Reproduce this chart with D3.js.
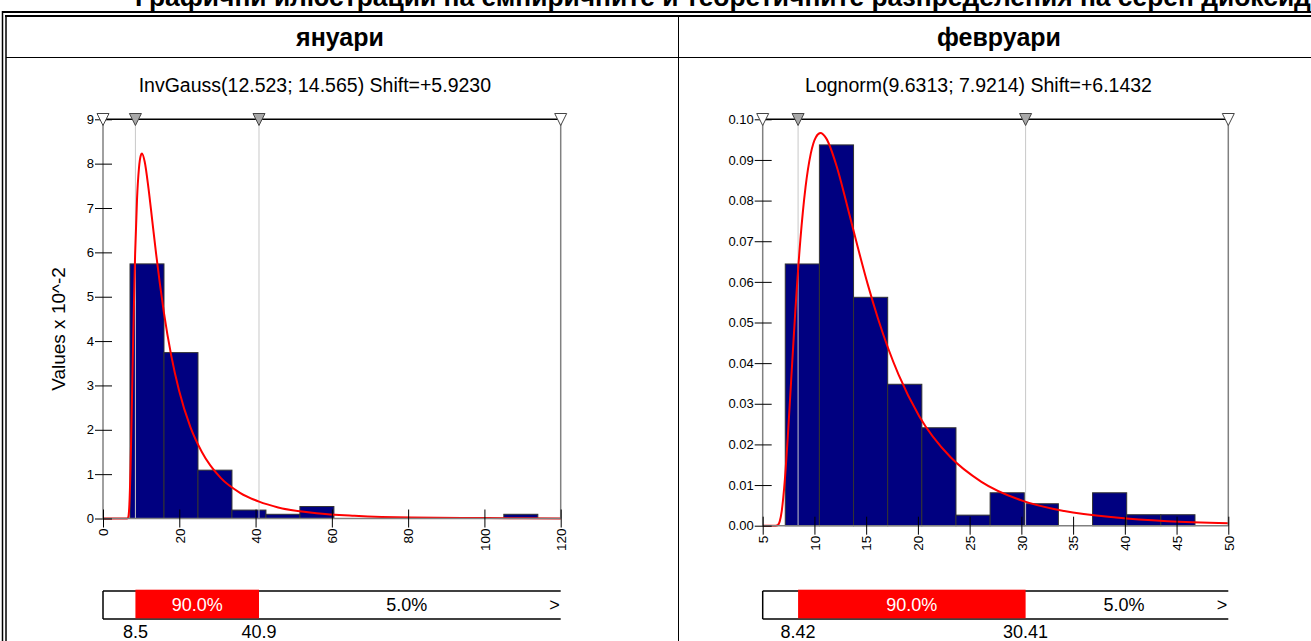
<!DOCTYPE html>
<html>
<head>
<meta charset="utf-8">
<script src="https://cdn.jsdelivr.net/npm/d3@7"></script>
<style>
  body { margin: 0; background: #fff; }
  text { font-family: "Liberation Sans", Arial, sans-serif; }
</style>
</head>
<body>
<div id="chart"></div>
<script>
const pageTitle = "Графични илюстрации на емпиричните и теоретичните разпределения на серен диоксид";
const months = ["януари", "февруари"];
const fitNames = ["InvGauss(12.523; 14.565) Shift=+5.9230", "Lognorm(9.6313; 7.9214) Shift=+6.1432"];
const yTitles = ["Values x 10^-2", ""];

// histograms: first bin edge, bin width, bar heights
const janBinStart = 7.08, janBinWidth = 8.91;
const janHeights = [5.74, 3.74, 1.09, 0.19, 0.095, 0.27, 0, 0, 0, 0, 0, 0.095];
const febBinStart = 7.18, febBinWidth = 3.3;
const febHeights = [0.0644, 0.0937, 0.0562, 0.0348, 0.0241, 0.0026, 0.0081, 0.0054, 0, 0.0081, 0.0027, 0.0027];

// fitted curves [x, density]
const janCurve = [[0, 0], [6.3, 0], [6.52, 0.01], [6.72, 0.07], [6.92, 0.32], [7.22, 1.14], [7.52, 2.36],
  [7.92, 4.12], [8.42, 5.96], [8.92, 7.2], [9.42, 7.89], [9.92, 8.19], [10.22, 8.23], [10.92, 8.05],
  [11.92, 7.45], [12.92, 6.71], [13.92, 5.97], [14.92, 5.29], [15.92, 4.67], [17.92, 3.66], [19.92, 2.89],
  [22.92, 2.06], [25.92, 1.5], [30.92, 0.91], [35.92, 0.58], [40.92, 0.38], [45.92, 0.25], [55.92, 0.12],
  [65.92, 0.06], [80.92, 0.02], [100.92, 0.01], [120, 0]];
const febCurve = [[5, 0], [6.25, 0], [6.44, 0.0001], [6.64, 0.001], [6.84, 0.0036], [7.14, 0.0113],
  [7.44, 0.0225], [7.74, 0.0353], [8.14, 0.0523], [8.64, 0.0703], [9.14, 0.0833], [9.64, 0.0915],
  [10.14, 0.0956], [10.58, 0.0966], [11.14, 0.0953], [12.14, 0.0885], [13.14, 0.079], [14.14, 0.069],
  [15.14, 0.0595], [16.14, 0.051], [18.14, 0.0371], [20.14, 0.0269], [23.14, 0.0169], [26.14, 0.0108],
  [30.14, 0.0061], [34.14, 0.0036], [39.14, 0.002], [44.14, 0.0011], [50, 0.0006]];

const janXTicks = [0, 20, 40, 60, 80, 100, 120];
const janYTicks = [0, 1, 2, 3, 4, 5, 6, 7, 8, 9];
const febXTicks = [5, 10, 15, 20, 25, 30, 35, 40, 45, 50];
const febYTicks = [0, 0.01, 0.02, 0.03, 0.04, 0.05, 0.06, 0.07, 0.08, 0.09, 0.10];

const janMarks = [8.5, 40.9];
const febMarks = [8.42, 30.41];
const janMarkLabels = ["8.5", "40.9"];
const febMarkLabels = ["8.42", "30.41"];
const bandLabels = ["90.0%", "5.0%", ">"];

const width = 1311, height = 641;

const panels = [
  {month: months[0], fit: fitNames[0], yTitle: yTitles[0], heights: janHeights, binStart: janBinStart,
   binWidth: janBinWidth, curve: janCurve, xTicks: janXTicks, yTicks: janYTicks, yFormat: d3.format("d"),
   marks: janMarks, markLabels: janMarkLabels, cx: 340,
   box: {left: 103, right: 560.7, top: 119.3, bottom: 518.5}},
  {month: months[1], fit: fitNames[1], yTitle: yTitles[1], heights: febHeights, binStart: febBinStart,
   binWidth: febBinWidth, curve: febCurve, xTicks: febXTicks, yTicks: febYTicks, yFormat: d3.format(".2f"),
   marks: febMarks, markLabels: febMarkLabels, cx: 999,
   box: {left: 762.7, right: 1228.3, top: 119.3, bottom: 525.7}}
];

const svg = d3.select("#chart").append("svg")
    .attr("width", width)
    .attr("height", height);

// page title, cut by the top edge like in the source
svg.append("text")
    .attr("x", 135)
    .attr("y", 6)
    .attr("font-size", 26.4)
    .attr("font-weight", "bold")
    .text(pageTitle);

// table borders
const frame = svg.append("g").attr("stroke", "#000");
frame.append("line").attr("x1", 2).attr("x2", width).attr("y1", 12).attr("y2", 12).attr("stroke-width", 2);
frame.append("line").attr("x1", 5).attr("x2", width).attr("y1", 16).attr("y2", 16).attr("stroke-width", 2);
frame.append("line").attr("x1", 2.5).attr("x2", 2.5).attr("y1", 11).attr("y2", height).attr("stroke-width", 1.5);
frame.append("line").attr("x1", 6).attr("x2", 6).attr("y1", 15.5).attr("y2", height).attr("stroke-width", 1.5);
frame.append("line").attr("x1", 6).attr("x2", width).attr("y1", 57.5).attr("y2", 57.5).attr("stroke-width", 1);
frame.append("line").attr("x1", 678.5).attr("x2", 678.5).attr("y1", 17).attr("y2", height).attr("stroke-width", 1);

panels.forEach(p => {
  const b = p.box;
  const x = d3.scaleLinear().domain(d3.extent(p.xTicks)).range([b.left, b.right]);
  const y = d3.scaleLinear().domain(d3.extent(p.yTicks)).range([b.bottom, b.top]);
  const g = svg.append("g");

  g.append("text")
      .attr("x", p.cx).attr("y", 46)
      .attr("text-anchor", "middle")
      .attr("font-size", 25)
      .attr("font-weight", "bold")
      .text(p.month);

  g.append("text")
      .attr("x", (b.left + b.right) / 2 - 17).attr("y", 92)
      .attr("text-anchor", "middle")
      .attr("font-size", 19.5)
      .text(p.fit);

  if (p.yTitle) {
    g.append("text")
        .attr("transform", `translate(65,329) rotate(-90)`)
        .attr("text-anchor", "middle")
        .attr("font-size", 19)
        .text(p.yTitle);
  }

  // bars
  const bins = p.heights.map((h, i) => ({x0: p.binStart + i * p.binWidth, x1: p.binStart + (i + 1) * p.binWidth, h}))
      .filter(d => d.h > 0);
  g.selectAll(".bar")
      .data(bins)
      .enter().append("rect")
      .attr("x", d => x(d.x0))
      .attr("width", d => x(d.x1) - x(d.x0))
      .attr("y", d => y(d.h))
      .attr("height", d => y(0) - y(d.h))
      .attr("fill", "#000080")
      .attr("stroke", "#333")
      .attr("stroke-width", 1);

  // percentile lines
  g.selectAll(".mark")
      .data(p.marks)
      .enter().append("line")
      .attr("x1", d => x(d)).attr("x2", d => x(d))
      .attr("y1", b.top).attr("y2", b.bottom)
      .attr("stroke", "#c8c8c8")
      .attr("stroke-width", 1);

  // fitted curve
  g.append("path")
      .datum(p.curve)
      .attr("fill", "none")
      .attr("stroke", "#ff0000")
      .attr("stroke-width", 2)
      .attr("d", d3.line().x(d => x(d[0])).y(d => y(d[1])).curve(d3.curveMonotoneX));

  // plot frame
  g.append("line").attr("x1", b.left).attr("x2", b.right).attr("y1", b.top).attr("y2", b.top)
      .attr("stroke", "#000").attr("stroke-width", 1.5);
  g.append("line").attr("x1", b.right).attr("x2", b.right).attr("y1", b.top).attr("y2", b.bottom)
      .attr("stroke", "#808080").attr("stroke-width", 1.5);
  g.append("line").attr("x1", b.left).attr("x2", b.left).attr("y1", b.top).attr("y2", b.bottom)
      .attr("stroke", "#808080").attr("stroke-width", 1.5);
  g.append("line").attr("x1", b.left).attr("x2", b.right).attr("y1", b.bottom).attr("y2", b.bottom)
      .attr("stroke", "#808080").attr("stroke-width", 1.5);

  // axes with ticks crossing the frame
  const yAxis = g.append("g")
      .attr("transform", `translate(${b.left + 9},0)`)
      .call(d3.axisLeft(y).tickValues(p.yTicks).tickFormat(p.yFormat).tickSize(17).tickPadding(1));
  yAxis.select(".domain").remove();
  yAxis.selectAll("line").attr("stroke", "#000");
  yAxis.selectAll("text").attr("font-size", 13).attr("fill", "#000")
      .style("font-family", "'Liberation Sans', Arial, sans-serif");

  const xAxis = g.append("g")
      .attr("transform", `translate(0,${b.bottom - 9})`)
      .call(d3.axisBottom(x).tickValues(p.xTicks).tickFormat(d3.format("d")).tickSize(18));
  xAxis.select(".domain").remove();
  xAxis.selectAll("line").attr("stroke", "#000");
  xAxis.selectAll("text")
      .attr("x", 0).attr("y", 0).attr("dy", "0.35em")
      .attr("transform", "translate(0,19) rotate(-90)")
      .attr("text-anchor", "end")
      .attr("font-size", 13.5).attr("fill", "#000")
      .style("font-family", "'Liberation Sans', Arial, sans-serif");

  // triangles on top
  const ends = d3.extent(p.xTicks);
  g.selectAll(".tri")
      .data([...ends.map(v => ({v, fill: "#fff"})), ...p.marks.map(v => ({v, fill: "#a8a8a8"}))])
      .enter().append("path")
      .attr("d", "M-6,0L6,0L0,12Z")
      .attr("transform", d => `translate(${x(d.v)},${b.top - 5.8})`)
      .attr("fill", d => d.fill)
      .attr("stroke", "#444")
      .attr("stroke-width", 1);

  // probability band below
  const top = 591, bot = 619;
  g.append("line").attr("x1", b.left).attr("x2", b.right).attr("y1", top).attr("y2", top)
      .attr("stroke", "#000").attr("stroke-width", 1.5);
  g.append("line").attr("x1", b.left).attr("x2", b.right).attr("y1", bot).attr("y2", bot)
      .attr("stroke", "#000").attr("stroke-width", 1.5);
  g.append("line").attr("x1", b.left).attr("x2", b.left).attr("y1", top).attr("y2", bot)
      .attr("stroke", "#000").attr("stroke-width", 1.5);
  g.append("rect")
      .attr("x", x(p.marks[0]))
      .attr("width", x(p.marks[1]) - x(p.marks[0]))
      .attr("y", top - 1.3)
      .attr("height", bot - top + 0.6)
      .attr("fill", "#ff0000");

  g.append("text")
      .attr("x", (x(p.marks[0]) + x(p.marks[1])) / 2).attr("y", 611)
      .attr("text-anchor", "middle").attr("font-size", 18).attr("fill", "#fff")
      .text(bandLabels[0]);
  g.append("text")
      .attr("x", (x(p.marks[1]) + b.right) / 2 - 3).attr("y", 611)
      .attr("text-anchor", "middle").attr("font-size", 18)
      .text(bandLabels[1]);
  g.append("text")
      .attr("x", b.right - 1).attr("y", 611)
      .attr("text-anchor", "end").attr("font-size", 18)
      .text(bandLabels[2]);

  g.selectAll(".ml")
      .data(p.marks)
      .enter().append("text")
      .attr("x", d => x(d)).attr("y", 638)
      .attr("text-anchor", "middle").attr("font-size", 18)
      .text((d, i) => p.markLabels[i]);
});
</script>
</body>
</html>
